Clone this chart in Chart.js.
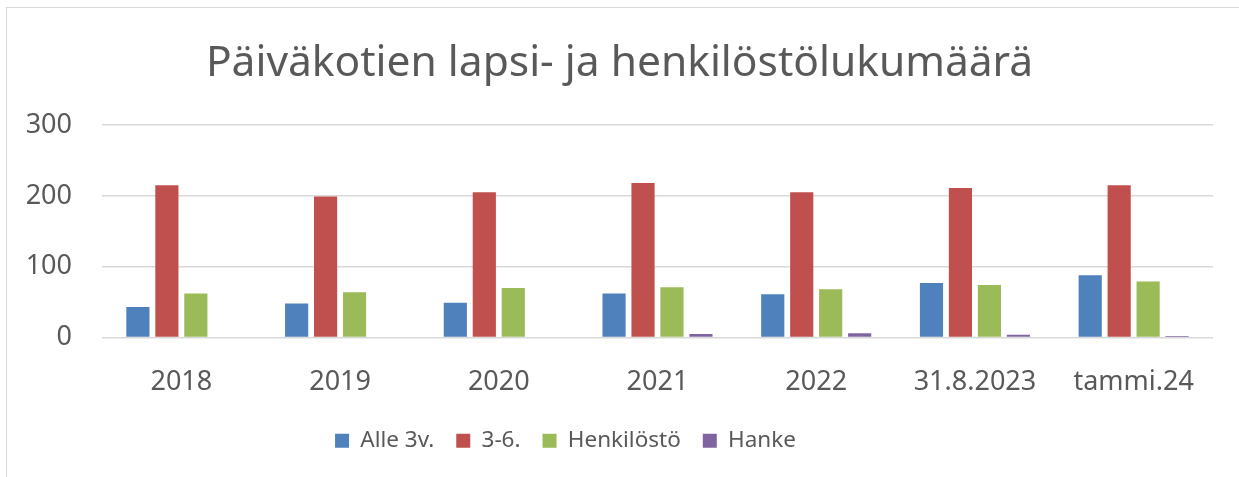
<!DOCTYPE html>
<html>
<head>
<meta charset="utf-8">
<script src="https://cdn.jsdelivr.net/npm/chart.js@4.4.0/dist/chart.umd.min.js"></script>
<style>
  body { margin: 0; background: #fff; overflow: hidden; }
  #frame { position: absolute; left: 6px; top: 7px; width: 1300px; height: 520px; border-left: 1.5px solid #d9d9d9; border-top: 1.5px solid #d9d9d9; }
  #wrap { position: absolute; left: 0; top: 0; width: 1239px; height: 477px; }
</style>
</head>
<body>
<div id="frame"></div>
<div id="wrap"><canvas id="chart" width="1239" height="477"></canvas></div>
<script>
const categories = ['2018', '2019', '2020', '2021', '2022', '31.8.2023', 'tammi.24'];
const alle3 = [43, 48, 49, 62, 61, 77, 88];
const kolmeKuusi = [215, 199, 205, 218, 205, 211, 215];
const henkilosto = [62, 64, 70, 71, 68, 74, 79];
const hanke = [0, 0, 0, 5, 6, 4, 2];
const yTicks = [0, 100, 200, 300];

const fontFamily = "'Noto Sans', sans-serif";
const textColor = '#595959';

// legend in the original sits a bit left of centre
const legendShift = {
  id: 'legendShift',
  afterLayout(chart) {
    chart.legend.left -= 54;
    chart.legend.right -= 54;
  }
};

new Chart(document.getElementById('chart'), {
  type: 'bar',
  data: {
    labels: categories,
    datasets: [
      { label: 'Alle 3v.', data: alle3, backgroundColor: '#4F81BD' },
      { label: '3-6.', data: kolmeKuusi, backgroundColor: '#C0504D' },
      { label: 'Henkilöstö', data: henkilosto, backgroundColor: '#9BBB59' },
      { label: 'Hanke', data: hanke, backgroundColor: '#8064A2' }
    ]
  },
  plugins: [legendShift],
  options: {
    responsive: false,
    animation: false,
    layout: { padding: { left: 26, right: 26, top: 0, bottom: 15 } },
    datasets: { bar: { categoryPercentage: 0.73, barPercentage: 0.8 } },
    plugins: {
      tooltip: { enabled: false },
      title: {
        display: true,
        text: 'Päiväkotien lapsi- ja henkilöstölukumäärä',
        color: textColor,
        font: { family: fontFamily, size: 42.5, weight: 'normal' },
        padding: { top: 38, bottom: 36 }
      },
      legend: {
        position: 'bottom',
        labels: {
          color: textColor,
          font: { family: fontFamily, size: 22.5 },
          boxWidth: 14,
          boxHeight: 14,
          padding: 22
        }
      }
    },
    scales: {
      x: {
        afterFit: (s) => { s.height = 70; },
        grid: { display: false, drawTicks: false },
        border: { display: false },
        ticks: { color: textColor, font: { family: fontFamily, size: 27 }, padding: 29 }
      },
      y: {
        min: 0,
        max: 300,
        afterBuildTicks: (s) => { s.ticks = yTicks.map(v => ({ value: v })); },
        afterFit: (s) => { s.width = 76; },
        grid: { color: '#d9d9d9', lineWidth: 1.5, drawTicks: false },
        border: { display: false },
        ticks: { color: textColor, font: { family: fontFamily, size: 27 }, padding: 30 }
      }
    }
  }
});
</script>
</body>
</html>
